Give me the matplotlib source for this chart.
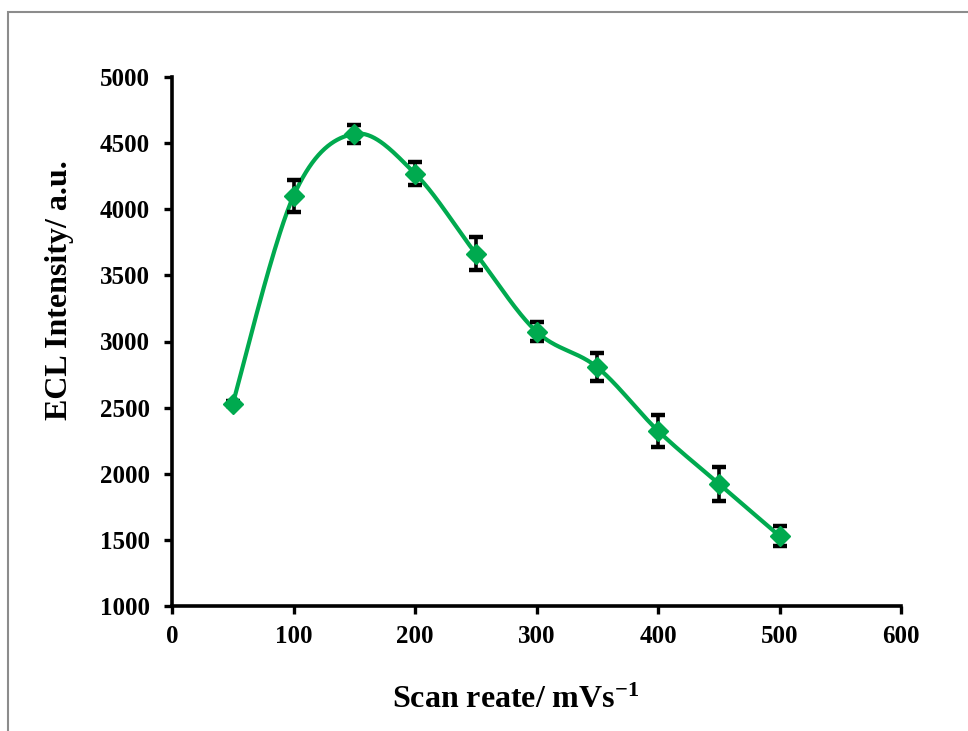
import numpy as np
import matplotlib
matplotlib.use("Agg")
import matplotlib.pyplot as plt
from matplotlib.patches import Rectangle

scan_rate = [50, 100, 150, 200, 250, 300, 350, 400, 450, 500]
ecl_intensity = [2530, 4100, 4570, 4270, 3665, 3075, 2805, 2325, 1925, 1530]
ecl_error = [20, 120, 70, 90, 125, 72, 105, 122, 128, 75]
x_ticks = [0, 100, 200, 300, 400, 500, 600]
y_ticks = [1000, 1500, 2000, 2500, 3000, 3500, 4000, 4500, 5000]

GREEN = "#00AA4F"

def smooth_curve(xs, ys, n=40, t=1/6):
    xs = np.asarray(xs, float); ys = np.asarray(ys, float)
    px, py = [], []
    N = len(xs)
    for i in range(N - 1):
        x0, y0 = (xs[i-1], ys[i-1]) if i > 0 else (xs[i], ys[i])
        x1, y1 = xs[i], ys[i]
        x2, y2 = xs[i+1], ys[i+1]
        x3, y3 = (xs[i+2], ys[i+2]) if i + 2 < N else (xs[i+1], ys[i+1])
        c1x, c1y = x1 + (x2 - x0) * t, y1 + (y2 - y0) * t
        c2x, c2y = x2 - (x3 - x1) * t, y2 - (y3 - y1) * t
        s = np.linspace(0, 1, n)
        bx = (1-s)**3*x1 + 3*(1-s)**2*s*c1x + 3*(1-s)*s**2*c2x + s**3*x2
        by = (1-s)**3*y1 + 3*(1-s)**2*s*c1y + 3*(1-s)*s**2*c2y + s**3*y2
        px.extend(bx); py.extend(by)
    return np.array(px), np.array(py)

plt.rcParams['font.family'] = ['Liberation Serif', 'DejaVu Serif']
plt.rcParams['font.weight'] = 'bold'
plt.rcParams['mathtext.fontset'] = 'custom'
plt.rcParams['mathtext.rm'] = 'Liberation Serif:bold'
plt.rcParams['mathtext.bf'] = 'Liberation Serif:bold'
plt.rcParams['mathtext.it'] = 'Liberation Serif:bold'

fig = plt.figure(figsize=(9.68, 7.31), dpi=100)
fig.patches.append(Rectangle((8/968, -1), 2, (731-11.5)/731 + 1, transform=fig.transFigure,
                             fill=False, edgecolor="#8c8c8c", linewidth=1.5))

ax = fig.add_axes([172/968, 1-606/731, (901-172)/968, (606-77)/731])

sx, sy = smooth_curve(scan_rate, ecl_intensity)
ax.plot(sx, sy, color=GREEN, linewidth=3.0, zorder=2)
ax.errorbar(scan_rate, ecl_intensity, yerr=ecl_error, fmt='none', ecolor='black',
            elinewidth=2.6, capsize=5, capthick=3.2, zorder=3)
ax.plot(scan_rate, ecl_intensity, linestyle='none', marker='D', markersize=10,
        color=GREEN, zorder=4)

ax.set_xlim(0, 600)
ax.set_ylim(1000, 5000)
ax.set_xticks(x_ticks)
ax.set_yticks(y_ticks)
ax.set_xticklabels([str(v) for v in x_ticks], fontsize=18, fontweight='bold')
ax.set_yticklabels([str(v) for v in y_ticks], fontsize=18, fontweight='bold')
ax.tick_params(axis='y', direction='out', length=6, width=2.4, pad=10)
ax.tick_params(axis='x', direction='out', length=6, width=2.4, pad=8)
for s in ['top', 'right']:
    ax.spines[s].set_visible(False)
for s in ['left', 'bottom']:
    ax.spines[s].set_linewidth(2.6)

ax.set_xlabel("Scan reate/ mVs$^{\\mathbf{-1}}$", fontsize=23, fontweight='bold')
ax.set_ylabel("ECL Intensity/ a.u.", fontsize=23, fontweight='bold')
ax.xaxis.set_label_coords(0.472, -0.150)
ax.yaxis.set_label_coords(-0.135, 0.597)

fig.savefig("out.png", dpi=100)
